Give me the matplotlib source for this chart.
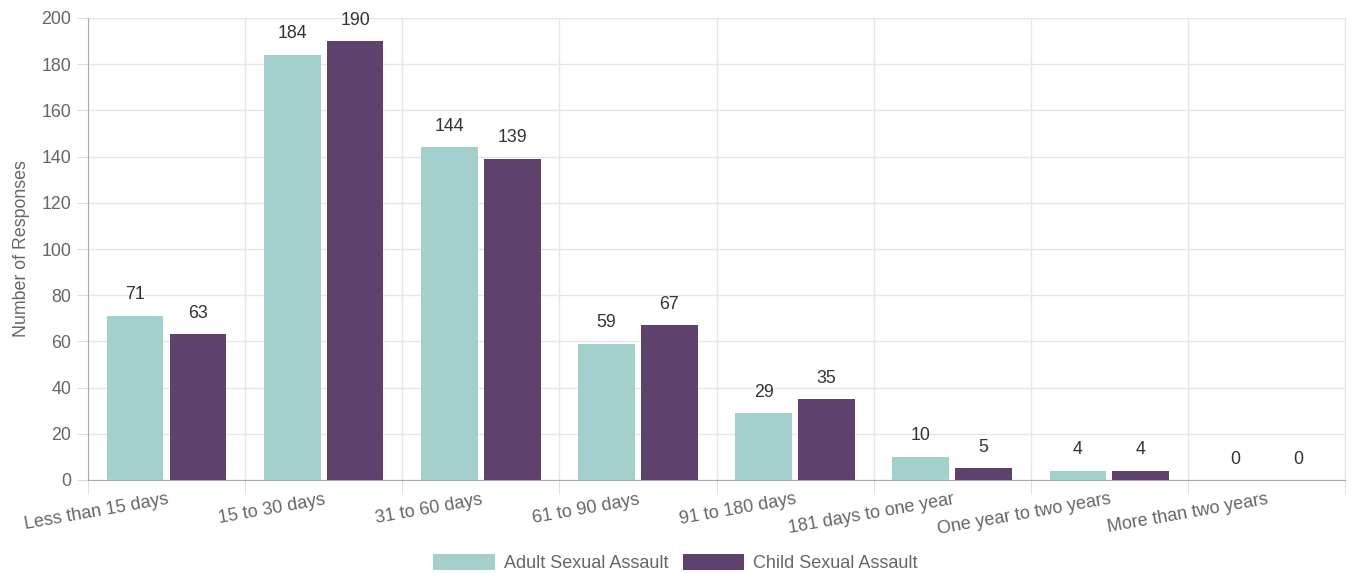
import matplotlib
matplotlib.use("Agg")
import matplotlib.pyplot as plt
import numpy as np
from matplotlib.patches import Patch

categories = ["Less than 15 days", "15 to 30 days", "31 to 60 days", "61 to 90 days",
              "91 to 180 days", "181 days to one year", "One year to two years",
              "More than two years"]
adult = [71, 184, 144, 59, 29, 10, 4, 0]
child = [63, 190, 139, 67, 35, 5, 4, 0]
series_names = ["Adult Sexual Assault", "Child Sexual Assault"]
colors = ["#A3CFCD", "#5E416D"]

plt.rcParams['font.family'] = ['Liberation Sans', 'DejaVu Sans']

fig = plt.figure(figsize=(13.51, 5.73), dpi=100)
ax = fig.add_axes([88/1351, 1-480/573, (1345-88)/1351, (480-18)/573])

x = np.arange(len(categories))
w = 0.36
off = 0.2
b1 = ax.bar(x - off, adult, w, color=colors[0], zorder=3)
b2 = ax.bar(x + off, child, w, color=colors[1], zorder=3)

for bars, vals in ((b1, adult), (b2, child)):
    for rect, v in zip(bars, vals):
        ax.annotate(str(v), (rect.get_x() + rect.get_width()/2, v),
                    xytext=(0, 9), textcoords="offset points",
                    ha="center", va="bottom", fontsize=12.8, color="#333333")

ax.set_xlim(-0.5, len(categories) - 0.5)
ax.set_ylim(0, 200)
ax.set_yticks(np.arange(0, 201, 20))
ax.set_xticks(x)
ax.set_xticklabels(categories, rotation=10, ha="right", rotation_mode="anchor")
ax.set_xticks(np.arange(-0.5, len(categories), 1), minor=True)

ax.tick_params(axis="x", which="major", length=0, pad=8, labelsize=13, labelcolor="#666666")
ax.tick_params(axis="x", which="minor", length=10, color="#dddddd")
ax.tick_params(axis="y", length=8, color="#dddddd", labelsize=12.8, labelcolor="#666666", pad=4)

ax.grid(axis="y", color="#e6e6e6", linewidth=1, zorder=0)
ax.grid(axis="x", which="minor", color="#e6e6e6", linewidth=1, zorder=0)
ax.grid(axis="x", which="major", visible=False)

ax.spines["top"].set_visible(False)
ax.spines["right"].set_color("#e6e6e6")
ax.spines["left"].set_color("#aaaaaa")
ax.spines["bottom"].set_color("#aaaaaa")

ax.set_ylabel("Number of Responses", fontsize=12.8, color="#666666", labelpad=8)

handles = [Patch(facecolor=c, label=n) for c, n in zip(colors, series_names)]
fig.legend(handles=handles, loc="center", bbox_to_anchor=(0.5, 1-563/573), ncol=2,
           frameon=False, fontsize=13, labelcolor="#666666", handlelength=3.4,
           handleheight=1.0, handletextpad=0.5, columnspacing=0.8)

fig.savefig("out.png", dpi=100)
